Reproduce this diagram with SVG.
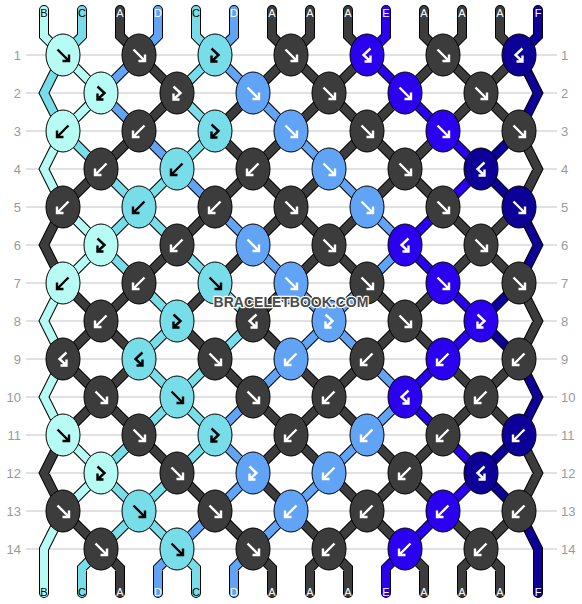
<svg xmlns="http://www.w3.org/2000/svg" xmlns:xlink="http://www.w3.org/1999/xlink" width="582" height="604" viewBox="0 0 582 604">
<style>
.grid line{stroke:#c4c4c4;stroke-width:1}
.rl{font-family:"Liberation Sans",Arial,sans-serif;font-size:13px;fill:#9a9a9a}
.rl.l{text-anchor:end}
.o{fill:none;stroke:#000;stroke-width:10;stroke-linejoin:miter;stroke-linecap:round}
.s{fill:none;stroke-width:8;stroke-linejoin:miter;stroke-linecap:round}
.cA{stroke:#3c3c3c}.cB{stroke:#b6fcf5}.cC{stroke:#77dde8}.cD{stroke:#61a3f5}.cE{stroke:#2a00ee}.cF{stroke:#0c0096}
.lab{font-family:"Liberation Sans",Arial,sans-serif;font-size:11px;text-anchor:middle}
.lk{fill:#000}.lw{fill:#fff}
.node ellipse{stroke:#000;stroke-width:1}
.kA ellipse{fill:#3c3c3c}.kB ellipse{fill:#b6fcf5}.kC ellipse{fill:#77dde8}.kD ellipse{fill:#61a3f5}.kE ellipse{fill:#2a00ee}.kF ellipse{fill:#0c0096}
.kA use,.kD use,.kE use,.kF use{stroke:#fff}
.kB use,.kC use{stroke:#000}
.wm{font-family:"Liberation Sans",Arial,sans-serif;font-size:14px;font-weight:bold;text-anchor:middle;fill:#4a4a4a;stroke:#fff;stroke-width:2.5;paint-order:stroke;stroke-linejoin:round}
</style>
<defs>
<path id="f" fill="none" stroke-width="2.4" d="M-5.5,-5.5 L6,6 M-0.5,6 H6 V-0.5"/>
<path id="b" fill="none" stroke-width="2.4" d="M5.5,-5.5 L-6,6 M0.5,6 H-6 V-0.5"/>
<path id="fb" fill="none" stroke-width="2.4" d="M-3.5,-6.5 L3.5,0 L-3.5,6.5 M-3.5,0.5 V6.5 H2.5"/>
<path id="bf" fill="none" stroke-width="2.4" d="M3.5,-6.5 L-3.5,0 L3.5,6.5 M3.5,0.5 V6.5 H-2.5"/>
<path id="pA" d="M63,207 L44,245 L63,283 M63,435 L44,473 L63,511 M101,169 L63,207 M63,283 L101,321 L63,359 L101,397 L63,435 M63,511 L101,549 M120,10 V36 L139,55 M139,131 L101,169 M139,283 L101,321 L139,359 L101,397 L139,435 M101,549 L120,568 V593 M139,55 L177,93 L139,131 M177,245 L139,283 M139,435 L177,473 M215,207 L177,245 M215,283 L177,321 L215,359 M177,473 L215,511 M253,93 L215,131 L253,169 L215,207 M253,245 L215,283 M215,359 L253,397 M215,511 L253,549 M272,10 V36 L291,55 L253,93 M291,131 L253,169 L291,207 L253,245 M291,283 L253,321 L291,359 M253,397 L291,435 L253,473 L291,511 M253,549 L272,568 V593 M310,10 V36 L291,55 L329,93 L291,131 M329,169 L291,207 L329,245 L291,283 M291,359 L329,397 L291,435 L329,473 M291,511 L329,549 L310,568 V593 M348,10 V36 L367,55 L329,93 L367,131 L329,169 M367,207 L329,245 L367,283 M367,359 L329,397 L367,435 M329,473 L367,511 L329,549 L348,568 V593 M405,93 L367,131 L405,169 L367,207 M367,283 L405,321 L367,359 M367,435 L405,473 L367,511 L405,549 M424,10 V36 L443,55 L405,93 M443,131 L405,169 L443,207 M443,283 L405,321 L443,359 M443,435 L405,473 L443,511 M405,549 L424,568 V593 M462,10 V36 L443,55 L481,93 L443,131 M443,207 L481,245 L443,283 M443,359 L481,397 L443,435 M443,511 L481,549 L462,568 V593 M500,10 V36 L519,55 L481,93 L519,131 M519,207 L481,245 L519,283 M519,359 L481,397 L519,435 M519,511 L481,549 L500,568 V593 M519,131 L538,169 L519,207 M519,283 L538,321 L519,359 M519,435 L538,473 L519,511"/>
<path id="pB" d="M44,10 V36 L63,55 M63,131 L44,169 L63,207 M63,283 L44,321 L63,359 L44,397 L63,435 M63,511 L44,549 V593 M63,55 L101,93 L63,131 M63,207 L101,245 L63,283 M63,435 L101,473 L63,511"/>
<path id="pC" d="M63,55 L44,93 L63,131 M82,10 V36 L63,55 M63,131 L101,169 M101,549 L82,568 V593 M101,169 L139,207 L101,245 L139,283 M139,435 L101,473 L139,511 L101,549 M177,169 L139,207 L177,245 M139,283 L177,321 L139,359 L177,397 L139,435 M177,473 L139,511 L177,549 M196,10 V36 L215,55 L177,93 L215,131 L177,169 M177,245 L215,283 M215,359 L177,397 L215,435 L177,473 M177,549 L196,568 V593 M215,283 L253,321 L215,359"/>
<path id="pD" d="M139,55 L101,93 L139,131 M158,10 V36 L139,55 M139,131 L177,169 M177,549 L158,568 V593 M177,169 L215,207 M215,511 L177,549 M234,10 V36 L215,55 L253,93 M215,207 L253,245 M253,397 L215,435 L253,473 L215,511 M253,549 L234,568 V593 M253,93 L291,131 M253,245 L291,283 M291,359 L253,397 M291,511 L253,549 M291,131 L329,169 M291,283 L329,321 L291,359 M329,473 L291,511 M329,169 L367,207 M367,283 L329,321 L367,359 M367,435 L329,473 M367,207 L405,245 L367,283 M367,359 L405,397 L367,435"/>
<path id="pE" d="M386,10 V36 L367,55 L405,93 M405,549 L386,568 V593 M405,93 L443,131 M443,207 L405,245 L443,283 M443,359 L405,397 L443,435 M443,511 L405,549 M443,131 L481,169 L443,207 M443,283 L481,321 L443,359 M443,435 L481,473 L443,511"/>
<path id="pF" d="M519,131 L481,169 L519,207 M519,283 L481,321 L519,359 M519,435 L481,473 L519,511 M538,10 V36 L519,55 L538,93 L519,131 M519,207 L538,245 L519,283 M519,359 L538,397 L519,435 M519,511 L538,549 V593"/>
</defs>
<rect width="582" height="604" fill="#fff"/>
<g class="grid">
<line x1="26" x2="557" y1="55" y2="55"/><line x1="26" x2="557" y1="93" y2="93"/><line x1="26" x2="557" y1="131" y2="131"/><line x1="26" x2="557" y1="169" y2="169"/><line x1="26" x2="557" y1="207" y2="207"/><line x1="26" x2="557" y1="245" y2="245"/><line x1="26" x2="557" y1="283" y2="283"/><line x1="26" x2="557" y1="321" y2="321"/><line x1="26" x2="557" y1="359" y2="359"/><line x1="26" x2="557" y1="397" y2="397"/><line x1="26" x2="557" y1="435" y2="435"/><line x1="26" x2="557" y1="473" y2="473"/><line x1="26" x2="557" y1="511" y2="511"/><line x1="26" x2="557" y1="549" y2="549"/>
</g>
<g id="row-labels">
<text class="rl l" x="21" y="59.5">1</text><text class="rl l" x="21" y="97.5">2</text><text class="rl l" x="21" y="135.5">3</text><text class="rl l" x="21" y="173.5">4</text><text class="rl l" x="21" y="211.5">5</text><text class="rl l" x="21" y="249.5">6</text><text class="rl l" x="21" y="287.5">7</text><text class="rl l" x="21" y="325.5">8</text><text class="rl l" x="21" y="363.5">9</text><text class="rl l" x="21" y="401.5">10</text><text class="rl l" x="21" y="439.5">11</text><text class="rl l" x="21" y="477.5">12</text><text class="rl l" x="21" y="515.5">13</text><text class="rl l" x="21" y="553.5">14</text>
<text class="rl" x="561" y="59.5">1</text><text class="rl" x="561" y="97.5">2</text><text class="rl" x="561" y="135.5">3</text><text class="rl" x="561" y="173.5">4</text><text class="rl" x="561" y="211.5">5</text><text class="rl" x="561" y="249.5">6</text><text class="rl" x="561" y="287.5">7</text><text class="rl" x="561" y="325.5">8</text><text class="rl" x="561" y="363.5">9</text><text class="rl" x="561" y="401.5">10</text><text class="rl" x="561" y="439.5">11</text><text class="rl" x="561" y="477.5">12</text><text class="rl" x="561" y="515.5">13</text><text class="rl" x="561" y="553.5">14</text>
</g>
<g id="connectors">
<use href="#pA" class="o"/><use href="#pB" class="o"/><use href="#pC" class="o"/><use href="#pD" class="o"/><use href="#pE" class="o"/><use href="#pF" class="o"/>
<use href="#pA" class="s cA"/><use href="#pB" class="s cB"/><use href="#pC" class="s cC"/><use href="#pD" class="s cD"/><use href="#pE" class="s cE"/><use href="#pF" class="s cF"/>
</g>
<g id="string-labels" class="lab">
<text class="lk" x="44" y="17">B</text><text class="lk" x="82" y="17">C</text><text class="lw" x="120" y="17">A</text><text class="lw" x="158" y="17">D</text><text class="lk" x="196" y="17">C</text><text class="lw" x="234" y="17">D</text><text class="lw" x="272" y="17">A</text><text class="lw" x="310" y="17">A</text><text class="lw" x="348" y="17">A</text><text class="lw" x="386" y="17">E</text><text class="lw" x="424" y="17">A</text><text class="lw" x="462" y="17">A</text><text class="lw" x="500" y="17">A</text><text class="lw" x="538" y="17">F</text>
<text class="lk" x="44" y="596">B</text><text class="lk" x="82" y="596">C</text><text class="lw" x="120" y="596">A</text><text class="lw" x="158" y="596">D</text><text class="lk" x="196" y="596">C</text><text class="lw" x="234" y="596">D</text><text class="lw" x="272" y="596">A</text><text class="lw" x="310" y="596">A</text><text class="lw" x="348" y="596">A</text><text class="lw" x="386" y="596">E</text><text class="lw" x="424" y="596">A</text><text class="lw" x="462" y="596">A</text><text class="lw" x="500" y="596">A</text><text class="lw" x="538" y="596">F</text>
</g>
<g id="nodes">
<g id="n1-1" class="node kB" transform="translate(63,55)"><ellipse rx="17" ry="21"/><use href="#f"/></g>
<g id="n1-2" class="node kA" transform="translate(139,55)"><ellipse rx="17" ry="21"/><use href="#f"/></g>
<g id="n1-3" class="node kC" transform="translate(215,55)"><ellipse rx="17" ry="21"/><use href="#fb"/></g>
<g id="n1-4" class="node kA" transform="translate(291,55)"><ellipse rx="17" ry="21"/><use href="#f"/></g>
<g id="n1-5" class="node kE" transform="translate(367,55)"><ellipse rx="17" ry="21"/><use href="#bf"/></g>
<g id="n1-6" class="node kA" transform="translate(443,55)"><ellipse rx="17" ry="21"/><use href="#f"/></g>
<g id="n1-7" class="node kF" transform="translate(519,55)"><ellipse rx="17" ry="21"/><use href="#bf"/></g>
<g id="n2-1" class="node kB" transform="translate(101,93)"><ellipse rx="17" ry="21"/><use href="#fb"/></g>
<g id="n2-2" class="node kA" transform="translate(177,93)"><ellipse rx="17" ry="21"/><use href="#fb"/></g>
<g id="n2-3" class="node kD" transform="translate(253,93)"><ellipse rx="17" ry="21"/><use href="#f"/></g>
<g id="n2-4" class="node kA" transform="translate(329,93)"><ellipse rx="17" ry="21"/><use href="#f"/></g>
<g id="n2-5" class="node kE" transform="translate(405,93)"><ellipse rx="17" ry="21"/><use href="#f"/></g>
<g id="n2-6" class="node kA" transform="translate(481,93)"><ellipse rx="17" ry="21"/><use href="#f"/></g>
<g id="n3-1" class="node kB" transform="translate(63,131)"><ellipse rx="17" ry="21"/><use href="#b"/></g>
<g id="n3-2" class="node kA" transform="translate(139,131)"><ellipse rx="17" ry="21"/><use href="#b"/></g>
<g id="n3-3" class="node kC" transform="translate(215,131)"><ellipse rx="17" ry="21"/><use href="#fb"/></g>
<g id="n3-4" class="node kD" transform="translate(291,131)"><ellipse rx="17" ry="21"/><use href="#f"/></g>
<g id="n3-5" class="node kA" transform="translate(367,131)"><ellipse rx="17" ry="21"/><use href="#f"/></g>
<g id="n3-6" class="node kE" transform="translate(443,131)"><ellipse rx="17" ry="21"/><use href="#f"/></g>
<g id="n3-7" class="node kA" transform="translate(519,131)"><ellipse rx="17" ry="21"/><use href="#f"/></g>
<g id="n4-1" class="node kA" transform="translate(101,169)"><ellipse rx="17" ry="21"/><use href="#b"/></g>
<g id="n4-2" class="node kC" transform="translate(177,169)"><ellipse rx="17" ry="21"/><use href="#b"/></g>
<g id="n4-3" class="node kA" transform="translate(253,169)"><ellipse rx="17" ry="21"/><use href="#b"/></g>
<g id="n4-4" class="node kD" transform="translate(329,169)"><ellipse rx="17" ry="21"/><use href="#f"/></g>
<g id="n4-5" class="node kA" transform="translate(405,169)"><ellipse rx="17" ry="21"/><use href="#f"/></g>
<g id="n4-6" class="node kF" transform="translate(481,169)"><ellipse rx="17" ry="21"/><use href="#bf"/></g>
<g id="n5-1" class="node kA" transform="translate(63,207)"><ellipse rx="17" ry="21"/><use href="#b"/></g>
<g id="n5-2" class="node kC" transform="translate(139,207)"><ellipse rx="17" ry="21"/><use href="#b"/></g>
<g id="n5-3" class="node kA" transform="translate(215,207)"><ellipse rx="17" ry="21"/><use href="#b"/></g>
<g id="n5-4" class="node kA" transform="translate(291,207)"><ellipse rx="17" ry="21"/><use href="#f"/></g>
<g id="n5-5" class="node kD" transform="translate(367,207)"><ellipse rx="17" ry="21"/><use href="#f"/></g>
<g id="n5-6" class="node kA" transform="translate(443,207)"><ellipse rx="17" ry="21"/><use href="#f"/></g>
<g id="n5-7" class="node kF" transform="translate(519,207)"><ellipse rx="17" ry="21"/><use href="#f"/></g>
<g id="n6-1" class="node kB" transform="translate(101,245)"><ellipse rx="17" ry="21"/><use href="#fb"/></g>
<g id="n6-2" class="node kA" transform="translate(177,245)"><ellipse rx="17" ry="21"/><use href="#b"/></g>
<g id="n6-3" class="node kD" transform="translate(253,245)"><ellipse rx="17" ry="21"/><use href="#f"/></g>
<g id="n6-4" class="node kA" transform="translate(329,245)"><ellipse rx="17" ry="21"/><use href="#f"/></g>
<g id="n6-5" class="node kE" transform="translate(405,245)"><ellipse rx="17" ry="21"/><use href="#bf"/></g>
<g id="n6-6" class="node kA" transform="translate(481,245)"><ellipse rx="17" ry="21"/><use href="#f"/></g>
<g id="n7-1" class="node kB" transform="translate(63,283)"><ellipse rx="17" ry="21"/><use href="#b"/></g>
<g id="n7-2" class="node kA" transform="translate(139,283)"><ellipse rx="17" ry="21"/><use href="#b"/></g>
<g id="n7-3" class="node kC" transform="translate(215,283)"><ellipse rx="17" ry="21"/><use href="#f"/></g>
<g id="n7-4" class="node kD" transform="translate(291,283)"><ellipse rx="17" ry="21"/><use href="#f"/></g>
<g id="n7-5" class="node kA" transform="translate(367,283)"><ellipse rx="17" ry="21"/><use href="#f"/></g>
<g id="n7-6" class="node kE" transform="translate(443,283)"><ellipse rx="17" ry="21"/><use href="#f"/></g>
<g id="n7-7" class="node kA" transform="translate(519,283)"><ellipse rx="17" ry="21"/><use href="#f"/></g>
<g id="n8-1" class="node kA" transform="translate(101,321)"><ellipse rx="17" ry="21"/><use href="#b"/></g>
<g id="n8-2" class="node kC" transform="translate(177,321)"><ellipse rx="17" ry="21"/><use href="#fb"/></g>
<g id="n8-3" class="node kA" transform="translate(253,321)"><ellipse rx="17" ry="21"/><use href="#bf"/></g>
<g id="n8-4" class="node kD" transform="translate(329,321)"><ellipse rx="17" ry="21"/><use href="#fb"/></g>
<g id="n8-5" class="node kA" transform="translate(405,321)"><ellipse rx="17" ry="21"/><use href="#f"/></g>
<g id="n8-6" class="node kE" transform="translate(481,321)"><ellipse rx="17" ry="21"/><use href="#fb"/></g>
<g id="n9-1" class="node kA" transform="translate(63,359)"><ellipse rx="17" ry="21"/><use href="#bf"/></g>
<g id="n9-2" class="node kC" transform="translate(139,359)"><ellipse rx="17" ry="21"/><use href="#bf"/></g>
<g id="n9-3" class="node kA" transform="translate(215,359)"><ellipse rx="17" ry="21"/><use href="#f"/></g>
<g id="n9-4" class="node kD" transform="translate(291,359)"><ellipse rx="17" ry="21"/><use href="#b"/></g>
<g id="n9-5" class="node kA" transform="translate(367,359)"><ellipse rx="17" ry="21"/><use href="#b"/></g>
<g id="n9-6" class="node kE" transform="translate(443,359)"><ellipse rx="17" ry="21"/><use href="#b"/></g>
<g id="n9-7" class="node kA" transform="translate(519,359)"><ellipse rx="17" ry="21"/><use href="#b"/></g>
<g id="n10-1" class="node kA" transform="translate(101,397)"><ellipse rx="17" ry="21"/><use href="#f"/></g>
<g id="n10-2" class="node kC" transform="translate(177,397)"><ellipse rx="17" ry="21"/><use href="#f"/></g>
<g id="n10-3" class="node kA" transform="translate(253,397)"><ellipse rx="17" ry="21"/><use href="#f"/></g>
<g id="n10-4" class="node kA" transform="translate(329,397)"><ellipse rx="17" ry="21"/><use href="#b"/></g>
<g id="n10-5" class="node kE" transform="translate(405,397)"><ellipse rx="17" ry="21"/><use href="#bf"/></g>
<g id="n10-6" class="node kA" transform="translate(481,397)"><ellipse rx="17" ry="21"/><use href="#b"/></g>
<g id="n11-1" class="node kB" transform="translate(63,435)"><ellipse rx="17" ry="21"/><use href="#f"/></g>
<g id="n11-2" class="node kA" transform="translate(139,435)"><ellipse rx="17" ry="21"/><use href="#f"/></g>
<g id="n11-3" class="node kC" transform="translate(215,435)"><ellipse rx="17" ry="21"/><use href="#fb"/></g>
<g id="n11-4" class="node kA" transform="translate(291,435)"><ellipse rx="17" ry="21"/><use href="#b"/></g>
<g id="n11-5" class="node kD" transform="translate(367,435)"><ellipse rx="17" ry="21"/><use href="#b"/></g>
<g id="n11-6" class="node kA" transform="translate(443,435)"><ellipse rx="17" ry="21"/><use href="#b"/></g>
<g id="n11-7" class="node kF" transform="translate(519,435)"><ellipse rx="17" ry="21"/><use href="#b"/></g>
<g id="n12-1" class="node kB" transform="translate(101,473)"><ellipse rx="17" ry="21"/><use href="#fb"/></g>
<g id="n12-2" class="node kA" transform="translate(177,473)"><ellipse rx="17" ry="21"/><use href="#f"/></g>
<g id="n12-3" class="node kD" transform="translate(253,473)"><ellipse rx="17" ry="21"/><use href="#fb"/></g>
<g id="n12-4" class="node kD" transform="translate(329,473)"><ellipse rx="17" ry="21"/><use href="#b"/></g>
<g id="n12-5" class="node kA" transform="translate(405,473)"><ellipse rx="17" ry="21"/><use href="#b"/></g>
<g id="n12-6" class="node kF" transform="translate(481,473)"><ellipse rx="17" ry="21"/><use href="#bf"/></g>
<g id="n13-1" class="node kA" transform="translate(63,511)"><ellipse rx="17" ry="21"/><use href="#f"/></g>
<g id="n13-2" class="node kC" transform="translate(139,511)"><ellipse rx="17" ry="21"/><use href="#f"/></g>
<g id="n13-3" class="node kA" transform="translate(215,511)"><ellipse rx="17" ry="21"/><use href="#f"/></g>
<g id="n13-4" class="node kD" transform="translate(291,511)"><ellipse rx="17" ry="21"/><use href="#b"/></g>
<g id="n13-5" class="node kA" transform="translate(367,511)"><ellipse rx="17" ry="21"/><use href="#b"/></g>
<g id="n13-6" class="node kE" transform="translate(443,511)"><ellipse rx="17" ry="21"/><use href="#b"/></g>
<g id="n13-7" class="node kA" transform="translate(519,511)"><ellipse rx="17" ry="21"/><use href="#b"/></g>
<g id="n14-1" class="node kA" transform="translate(101,549)"><ellipse rx="17" ry="21"/><use href="#f"/></g>
<g id="n14-2" class="node kC" transform="translate(177,549)"><ellipse rx="17" ry="21"/><use href="#f"/></g>
<g id="n14-3" class="node kA" transform="translate(253,549)"><ellipse rx="17" ry="21"/><use href="#f"/></g>
<g id="n14-4" class="node kA" transform="translate(329,549)"><ellipse rx="17" ry="21"/><use href="#b"/></g>
<g id="n14-5" class="node kE" transform="translate(405,549)"><ellipse rx="17" ry="21"/><use href="#b"/></g>
<g id="n14-6" class="node kA" transform="translate(481,549)"><ellipse rx="17" ry="21"/><use href="#b"/></g>
</g>
<text class="wm" x="291" y="307">BRACELETBOOK.COM</text>
</svg>
